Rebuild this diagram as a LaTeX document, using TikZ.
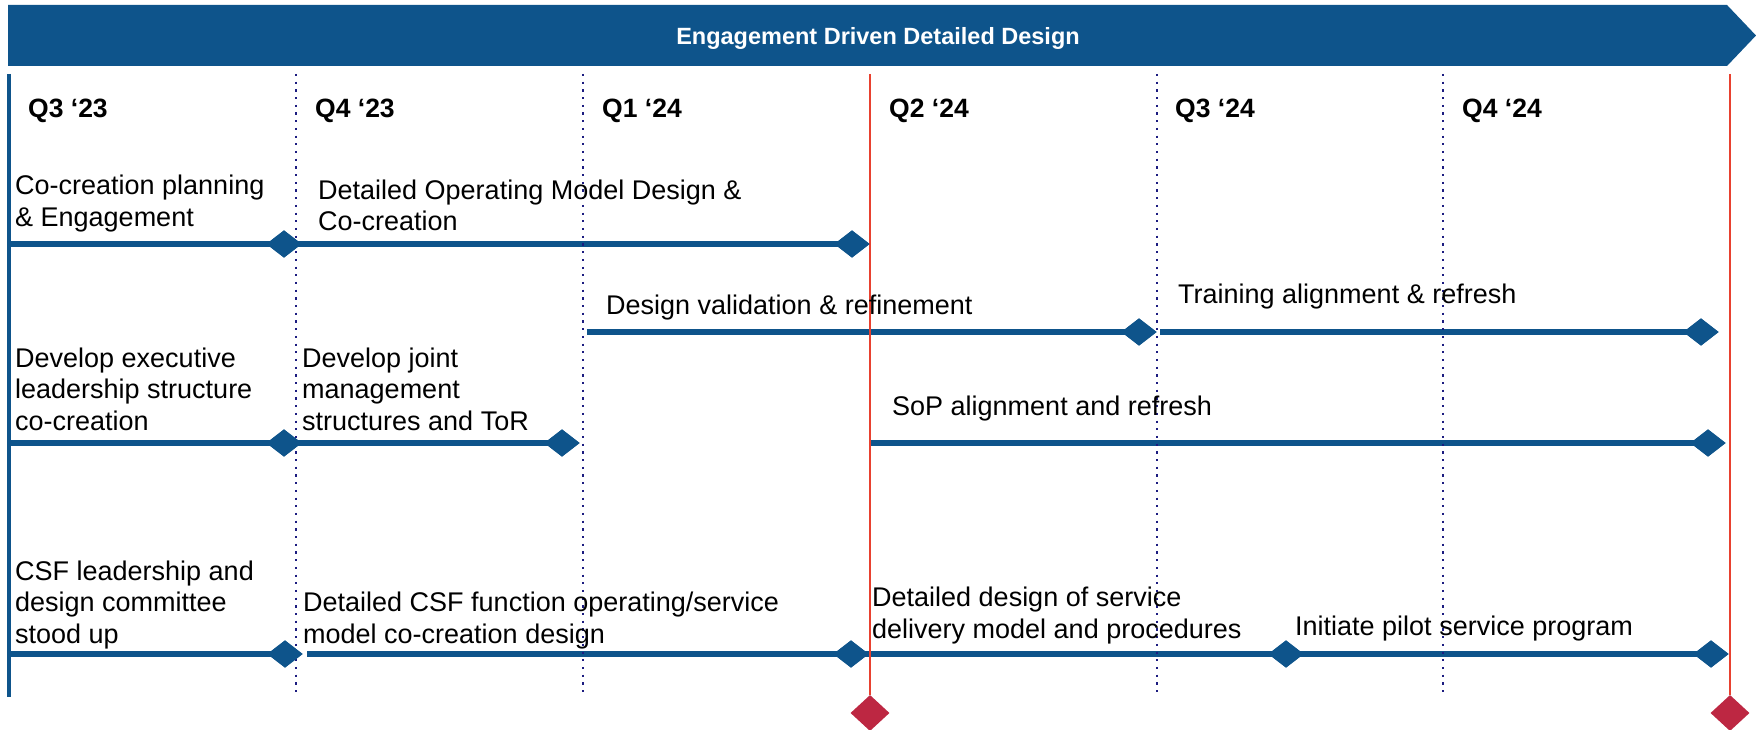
\documentclass[tikz,border=0pt]{standalone}
\usepackage{fontspec}
\setmainfont{Liberation Sans}
\usetikzlibrary{shapes.geometric}
\definecolor{bblue}{HTML}{0E548B}
\definecolor{rline}{HTML}{E8412F}
\definecolor{rdiam}{HTML}{BD2742}
\definecolor{dnavy}{HTML}{1C1C80}
\begin{document}
\begin{tikzpicture}[x=1pt,y=-1pt,
  lbl/.style={anchor=base west, align=left, inner sep=0pt, font=\fontsize{27}{31.5}\selectfont, text=black},
  qlbl/.style={anchor=base west, inner sep=0pt, font=\bfseries\fontsize{26.5}{30}\selectfont, text=black},
  mile/.style={shape=diamond, fill=bblue, inner sep=0pt, minimum width=35pt, minimum height=27pt},
  redmile/.style={shape=diamond, fill=rdiam, inner sep=0pt, minimum width=39pt, minimum height=36pt},
  bar/.style={draw=bblue, line width=6pt},
  axis/.style={draw=bblue, line width=3.5pt},
  dotline/.style={draw=dnavy, line width=2.2pt, dash pattern=on 2.2pt off 5.5pt},
  redline/.style={draw=rline, line width=2pt},
]
\useasboundingbox (0,0) rectangle (1756,730);

% banner
\fill[bblue] (8,5) -- (1727,5) -- (1756,35.5) -- (1727,66) -- (8,66) -- cycle;
\node[font=\bfseries\fontsize{23.5}{28}\selectfont, text=white] (title) at (878,38) {Engagement Driven Detailed Design};

% left axis
\coordinate (axT) at (9,74);
\coordinate (axB) at (9,697);
\draw[axis] (axT) -- (axB);

% quarter labels
\node[qlbl] (q1) at (28,118) {Q3 ‘23};
\node[qlbl] (q2) at (315,118) {Q4 ‘23};
\node[qlbl] (q3) at (602,118) {Q1 ‘24};
\node[qlbl] (q4) at (889,118) {Q2 ‘24};
\node[qlbl] (q5) at (1175,118) {Q3 ‘24};
\node[qlbl] (q6) at (1462,118) {Q4 ‘24};

% milestones
\node[mile] (d1a) at (284,244) {};
\node[mile] (d1b) at (852,244) {};
\node[mile] (d2a) at (1139,332) {};
\node[mile] (d2b) at (1701,332) {};
\node[mile] (d3a) at (284,443) {};
\node[mile] (d3b) at (562,443) {};
\node[mile] (d3c) at (1708,443) {};
\node[mile] (d4a) at (285,654) {};
\node[mile] (d4b) at (851,654) {};
\node[mile] (d4c) at (1286,654) {};
\node[mile] (d4d) at (1711,654) {};

\coordinate (r1s) at (9,244);
\coordinate (r2s) at (587,332);
\coordinate (r2m) at (1160,332);
\coordinate (r3s) at (9,443);
\coordinate (r3m) at (870,443);
\coordinate (r4s) at (9,654);
\coordinate (r4m) at (307,654);

\draw[bar] (r1s) -- (d1a.center);
\draw[bar] (d1a.center) -- (d1b.center);
\draw[bar] (r2s) -- (d2a.center);
\draw[bar] (r2m) -- (d2b.center);
\draw[bar] (r3s) -- (d3a.center);
\draw[bar] (d3a.center) -- (d3b.center);
\draw[bar] (r3m) -- (d3c.center);
\draw[bar] (r4s) -- (d4a.center);
\draw[bar] (r4m) -- (d4b.center);
\draw[bar] (d4b.center) -- (d4c.center);
\draw[bar] (d4c.center) -- (d4d.center);

% dotted quarter separators
\foreach \x/\n in {296/a,583/b,1157/c,1443/d}{
  \coordinate (dt\n) at (\x,74);
  \coordinate (db\n) at (\x,692);
  \draw[dotline] (dt\n) -- (db\n);
}

% red markers
\node[redmile] (rd1) at (870,713) {};
\node[redmile] (rd2) at (1730,713) {};
\coordinate (rt1) at (870,74);
\coordinate (rt2) at (1730,74);
\draw[redline] (rt1) -- (rd1.north);
\draw[redline] (rt2) -- (rd2.north);

% redraw diamonds on top
\foreach \d in {d1a,d1b,d2a,d2b,d3a,d3b,d3c,d4a,d4b,d4c,d4d}{
  \fill[bblue] (\d.north) -- (\d.east) -- (\d.south) -- (\d.west) -- cycle;
}

% activity labels (base anchor = baseline of last line)
\node[lbl] (t1) at (15,226) {Co-creation planning\\\& Engagement};
\node[lbl] (t2) at (318,231) {Detailed Operating Model Design \&\\Co-creation};
\node[lbl] (t3) at (606,314) {Design validation \& refinement};
\node[lbl] (t4) at (1178,303) {Training alignment \& refresh};
\node[lbl] (t5) at (15,430) {Develop executive\\leadership structure\\co-creation};
\node[lbl] (t6) at (302,430) {Develop joint\\management\\structures and ToR};
\node[lbl] (t7) at (892,415) {SoP alignment and refresh};
\node[lbl] (t8) at (15,643) {CSF leadership and\\design committee\\stood up};
\node[lbl] (t9) at (303,643) {Detailed CSF function operating/service\\model co-creation design};
\node[lbl] (t10) at (872,638) {Detailed design of service\\delivery model and procedures};
\node[lbl] (t11) at (1295,635) {Initiate pilot service program};
\end{tikzpicture}
\end{document}
